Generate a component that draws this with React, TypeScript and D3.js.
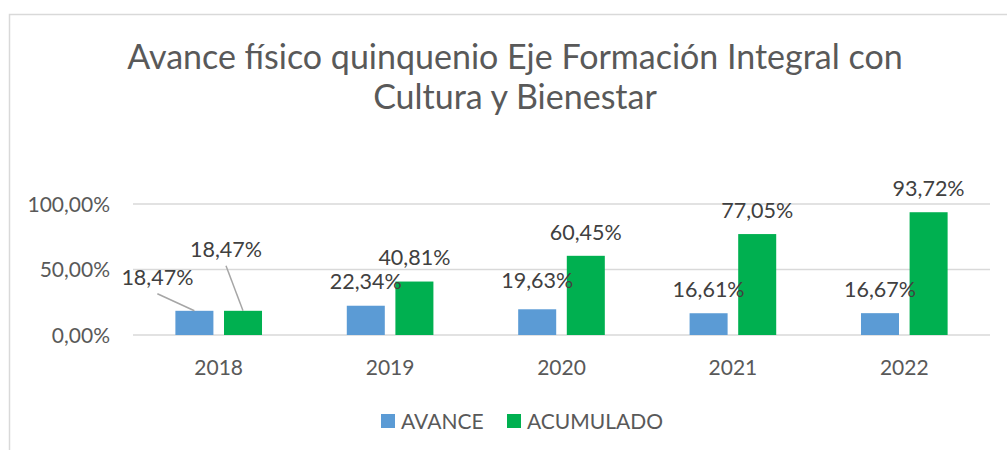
import React from "react";
import * as d3 from "d3";

const categories = ["2018", "2019", "2020", "2021", "2022"];
const seriesNames = ["AVANCE", "ACUMULADO"];
const avance = [18.47, 22.34, 19.63, 16.61, 16.67];
const acumulado = [18.47, 40.81, 60.45, 77.05, 93.72];
const yTicks = [0, 50, 100];
const titleLines = ["Avance físico quinquenio Eje Formación Integral con", "Cultura y Bienestar"];

const colors = ["#5B9BD5", "#00B050"];
const textColor = "#595959";
const FONT = "Lato, 'Open Sans', sans-serif";

// manual label moves (Excel-style dragged labels), [series][category] -> [dx, dy]
const labelMoves = [
  [[-37, -10], [0, 0], [0, -5], [0, 0], [0, 0]],
  [[-17, -38], [0, 0], [0, 0], [0, 0], [0, 0]],
];

const locale = d3.formatLocale({ decimal: ",", thousands: ".", grouping: [3], currency: ["", ""] });
const fmt = (v: number) => locale.format(".2f")(v) + "%";

export default function App() {
  const W = 1007, H = 450;
  const left = 133, right = 990, top = 204, bottom = 335;
  const x0 = d3.scaleBand().domain(categories).range([left, right]).paddingInner(0).paddingOuter(0);
  const x1 = d3.scaleBand().domain(seriesNames).range([0, x0.bandwidth()]).paddingInner(0.218).paddingOuter(0.872);
  const y = d3.scaleLinear().domain([0, 100]).range([bottom, top]);
  const series = [avance, acumulado];

  return (
    <svg width={W} height={H} style={{ position: "absolute", left: 0, top: 0, display: "block" }}>
      <rect x={0} y={0} width={W} height={H} fill="#fff" />
      <path d={`M9.5,${H} V14.5 H${W}`} fill="none" stroke="#D9D9D9" strokeWidth={1.5} />
      {titleLines.map((t, i) => (
        <text key={t} x={515} y={69 + i * 40} textAnchor="middle" fontFamily={FONT} fontSize={34} fill={textColor}>
          {t}
        </text>
      ))}
      {yTicks.map((t) => (
        <g key={t}>
          <line x1={left} x2={right} y1={y(t)} y2={y(t)} stroke="#D9D9D9" strokeWidth={1.5} />
          <text x={110} y={y(t)} dy="0.36em" textAnchor="end" fontFamily={FONT} fontSize={21} fill={textColor}>
            {fmt(t)}
          </text>
        </g>
      ))}
      {categories.map((c) => (
        <text key={c} x={x0(c)! + x0.bandwidth() / 2} y={367} dy="0.36em" textAnchor="middle" fontFamily={FONT} fontSize={21} fill={textColor}>
          {c}
        </text>
      ))}
      {series.map((vals, si) =>
        vals.map((v, ci) => {
          const bx = x0(categories[ci])! + x1(seriesNames[si])!;
          const bw = x1.bandwidth();
          const by = y(v);
          return (
            <rect key={`${si}-${ci}`} x={bx} y={by} width={bw} height={bottom - by} fill={colors[si]} />
          );
        })
      )}
      {series.map((vals, si) =>
        vals.map((v, ci) => {
          const bx = x0(categories[ci])! + x1(seriesNames[si])! + x1.bandwidth() / 2;
          const by = y(v);
          const [dx, dy] = labelMoves[si][ci];
          const lx = bx + dx;
          const ly = by - 24 + dy;
          const moved = Math.abs(dx) > 5 || Math.abs(dy) > 15;
          return (
            <g key={`l${si}-${ci}`}>
              {moved && <line x1={lx} y1={ly + 17} x2={bx} y2={by} stroke="#A6A6A6" strokeWidth={1.5} />}
              <text x={lx} y={ly} dy="0.36em" textAnchor="middle" fontFamily={FONT} fontSize={21.5} fill="#404040">
                {fmt(v)}
              </text>
            </g>
          );
        })
      )}
      {seriesNames.map((s, i) => {
        const lx = [381, 507][i];
        return (
          <g key={s}>
            <rect x={lx} y={414} width={14} height={14} fill={colors[i]} />
            <text x={lx + 20} y={421} dy="0.36em" fontFamily={FONT} fontSize={21} fill={textColor}>
              {s}
            </text>
          </g>
        );
      })}
    </svg>
  );
}
